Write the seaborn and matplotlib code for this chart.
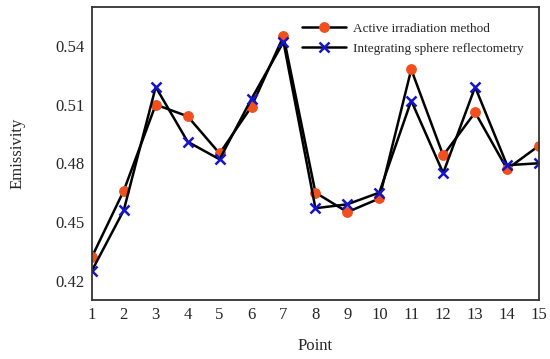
import numpy as np
import pandas as pd
import matplotlib
matplotlib.use("Agg")
import matplotlib.pyplot as plt
import seaborn as sns

points = list(range(1, 16))
active = [0.432, 0.466, 0.510, 0.504, 0.485, 0.509, 0.545, 0.465, 0.455,
          0.462, 0.528, 0.484, 0.506, 0.477, 0.489]
sphere = [0.425, 0.456, 0.519, 0.491, 0.482, 0.513, 0.542, 0.457, 0.459,
          0.465, 0.512, 0.475, 0.519, 0.479, 0.480]
yticks = [0.42, 0.45, 0.48, 0.51, 0.54]

sns.set_style("white")
plt.rcParams['font.family'] = ['Liberation Serif', 'DejaVu Serif']

fig = plt.figure(figsize=(5.5, 3.59), dpi=100)
ax = fig.add_axes([0.167, 0.164, 0.813, 0.817])

sns.lineplot(x=points, y=active, ax=ax, color="black", linewidth=1.8,
             marker="o", markersize=7, markerfacecolor="#f0501e",
             markeredgecolor="#f0501e", label="Active irradiation method")
sns.lineplot(x=points, y=sphere, ax=ax, color="black", linewidth=1.8,
             marker="x", markersize=7, markeredgewidth=1.8,
             markeredgecolor="#1414c8", label="Integrating sphere reflectometry")

ax.set_xlim(1, 15)
ax.set_ylim(0.41, 0.56)
ax.set_xticks(points)
ax.set_yticks(yticks)
ax.set_yticklabels([f"{v:.2f}" for v in yticks])
ax.tick_params(labelsize=12, length=0, pad=5)
ax.set_xlabel("Point", fontsize=12, labelpad=11)
ax.set_ylabel("Emissivity", fontsize=12, labelpad=22)
for s in ax.spines.values():
    s.set_color("#333333")
    s.set_linewidth(1.3)

leg = ax.legend(loc="upper right", frameon=False, fontsize=9.5,
                handlelength=3.3, handletextpad=0.5, borderaxespad=0.8,
                labelspacing=0.6)

fig.savefig("out.png", dpi=100)
